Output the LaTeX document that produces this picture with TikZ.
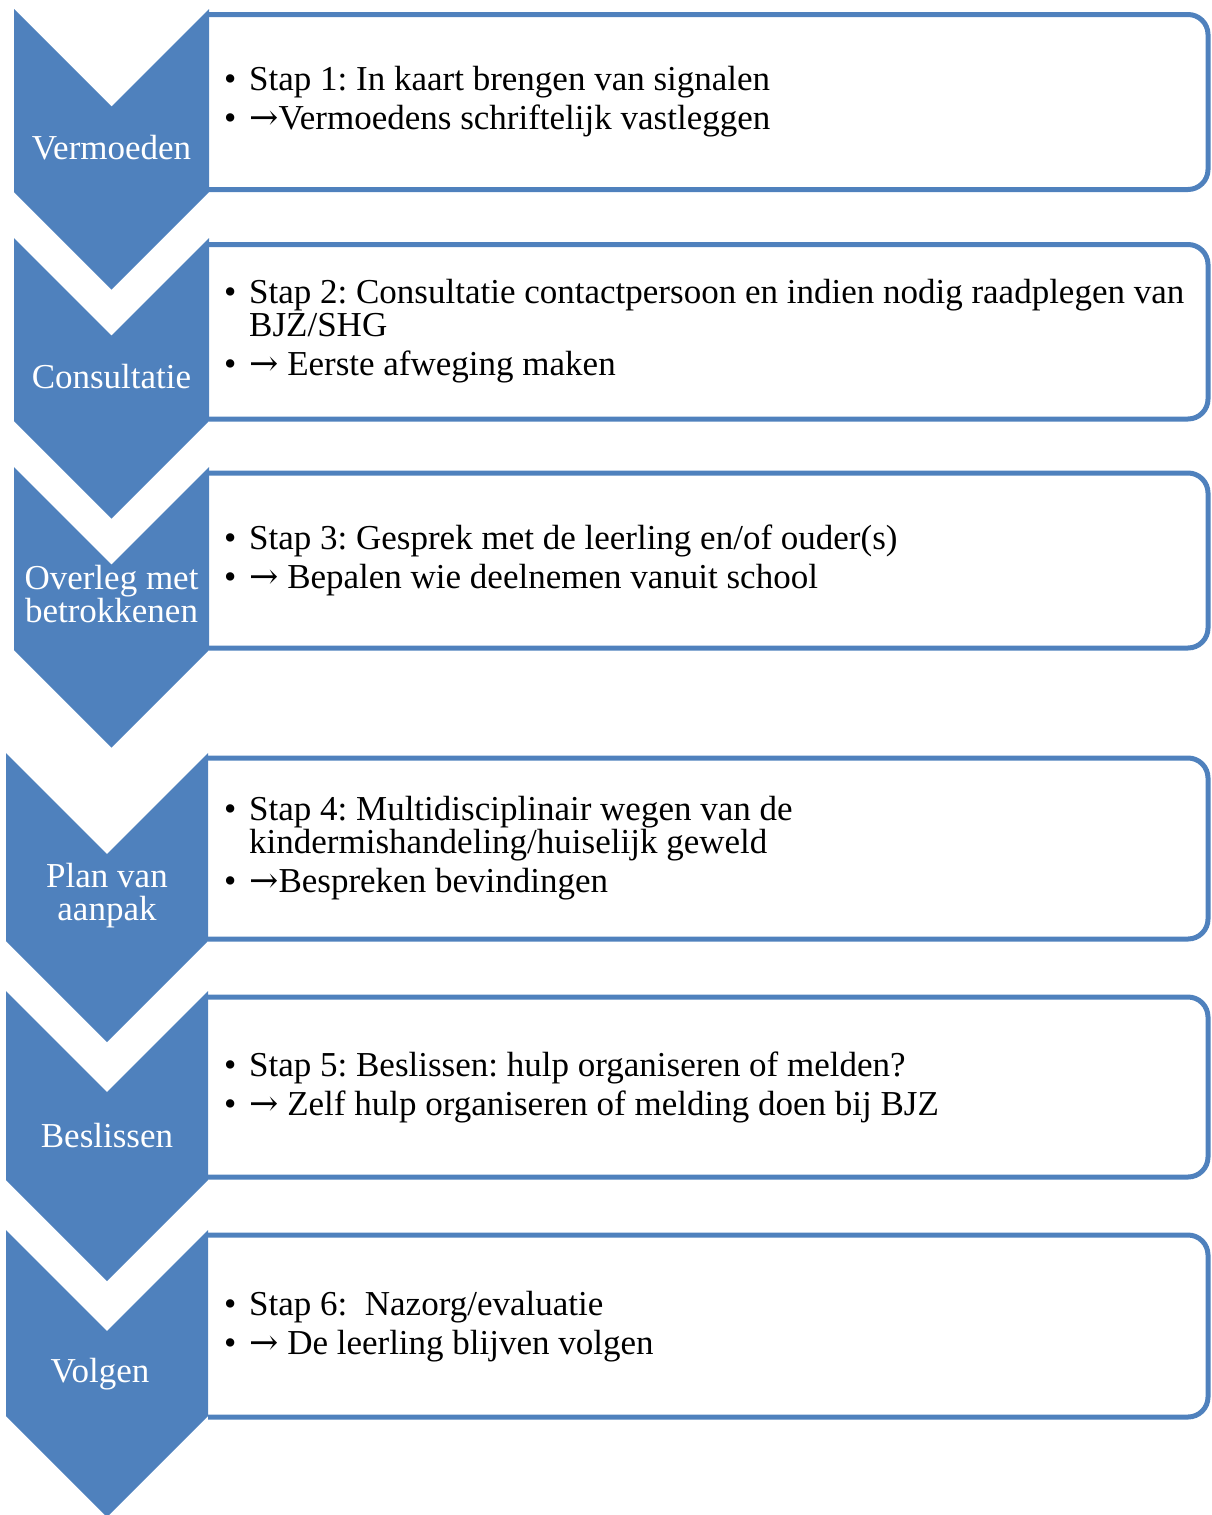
\documentclass[tikz,border=0pt]{standalone}
\usepackage{fontspec}
\setmainfont{Liberation Serif}
\newfontfamily\arrowfont{DejaVu Serif}
\definecolor{stepblue}{HTML}{4F81BD}
\newcommand{\stepitem}{\makebox[25pt][l]{\textbullet}}
\newcommand{\stepindent}{\hspace*{25pt}}
\newcommand{\steparrow}{{\arrowfont →}}
\frenchspacing

\begin{document}
\begin{tikzpicture}[x=1pt, y=-1pt,
  chev/.style={fill=stepblue},
  stepbox/.style={draw=stepblue, line width=5pt, rounded corners=20pt},
  chevlbl/.style={text=white, align=center, inner sep=0pt,
                  font=\fontsize{35}{33}\selectfont},
  steptxt/.style={anchor=west, align=left, inner sep=0pt,
                  font=\fontsize{35}{33}\selectfont},
]
\useasboundingbox (0,0) rectangle (1211,1515);

% ---- boxes (behind the chevrons) ----
\draw[stepbox] (209,14.5) -- (1208,14.5) -- (1208,189.5) -- (209,189.5);
\draw[stepbox] (209,244.5) -- (1208,244.5) -- (1208,419) -- (209,419);
\draw[stepbox] (209,473) -- (1208,473) -- (1208,648) -- (209,648);
\draw[stepbox] (208,758) -- (1208,758) -- (1208,939) -- (208,939);
\draw[stepbox] (208,997) -- (1208,997) -- (1208,1177) -- (208,1177);
\draw[stepbox] (208,1235) -- (1208,1235) -- (1208,1417) -- (208,1417);

% ---- chevrons ----
\fill[chev] (14,9) -- (111.5,106.5) -- (209,9) -- (209,192)
  -- (111.5,289.5) -- (14,192) -- cycle;
\fill[chev] (14,238) -- (111.5,335.5) -- (209,238) -- (209,421)
  -- (111.5,518.5) -- (14,421) -- cycle;
\fill[chev] (14,467) -- (111.5,564.5) -- (209,467) -- (209,650)
  -- (111.5,747.5) -- (14,650) -- cycle;
\fill[chev] (6,753) -- (107,854) -- (208,753) -- (208,941)
  -- (107,1042) -- (6,941) -- cycle;
\fill[chev] (6,991) -- (107,1092) -- (208,991) -- (208,1180)
  -- (107,1281) -- (6,1180) -- cycle;
\fill[chev] (6,1230) -- (107,1331) -- (208,1230) -- (208,1416)
  -- (107,1517) -- (6,1416) -- cycle;

% ---- chevron labels ----
\node[chevlbl] (lbl1) at (111.5,148) {Vermoeden};
\node[chevlbl] (lbl2) at (111.5,377) {Consultatie};
\node[chevlbl] (lbl3) at (111.5,594) {Overleg met\\betrokkenen};
\node[chevlbl] (lbl4) at (107,896) {Plan van\\aanpak};
\node[chevlbl] (lbl5) at (107,1136) {Beslissen};
\node[chevlbl] (lbl6) at (100,1374) {Volgen};

% ---- step texts ----
\node[steptxt] (txt1) at (224,102)
  {\stepitem Stap 1: In kaart brengen van signalen\\[6pt]
   \stepitem \steparrow Vermoedens schriftelijk vastleggen};
\node[steptxt] (txt2) at (224,331.5)
  {\stepitem Stap 2: Consultatie contactpersoon en indien nodig raadplegen van\\
   \stepindent BJZ/SHG\\[6pt]
   \stepitem \steparrow\ Eerste afweging maken};
\node[steptxt] (txt3) at (224,560.5)
  {\stepitem Stap 3: Gesprek met de leerling en/of ouder(s)\\[6pt]
   \stepitem \steparrow\ Bepalen wie deelnemen vanuit school};
\node[steptxt] (txt4) at (224,848.5)
  {\stepitem Stap 4: Multidisciplinair wegen van de\\
   \stepindent kindermishandeling/huiselijk geweld\\[6pt]
   \stepitem \steparrow Bespreken bevindingen};
\node[steptxt] (txt5) at (224,1087.5)
  {\stepitem Stap 5: Beslissen: hulp organiseren of melden?\\[6pt]
   \stepitem \steparrow\ Zelf hulp organiseren of melding doen bij BJZ};
\node[steptxt] (txt6) at (224,1326.5)
  {\stepitem Stap 6: \ Nazorg/evaluatie\\[6pt]
   \stepitem \steparrow\ De leerling blijven volgen};

\end{tikzpicture}
\end{document}
